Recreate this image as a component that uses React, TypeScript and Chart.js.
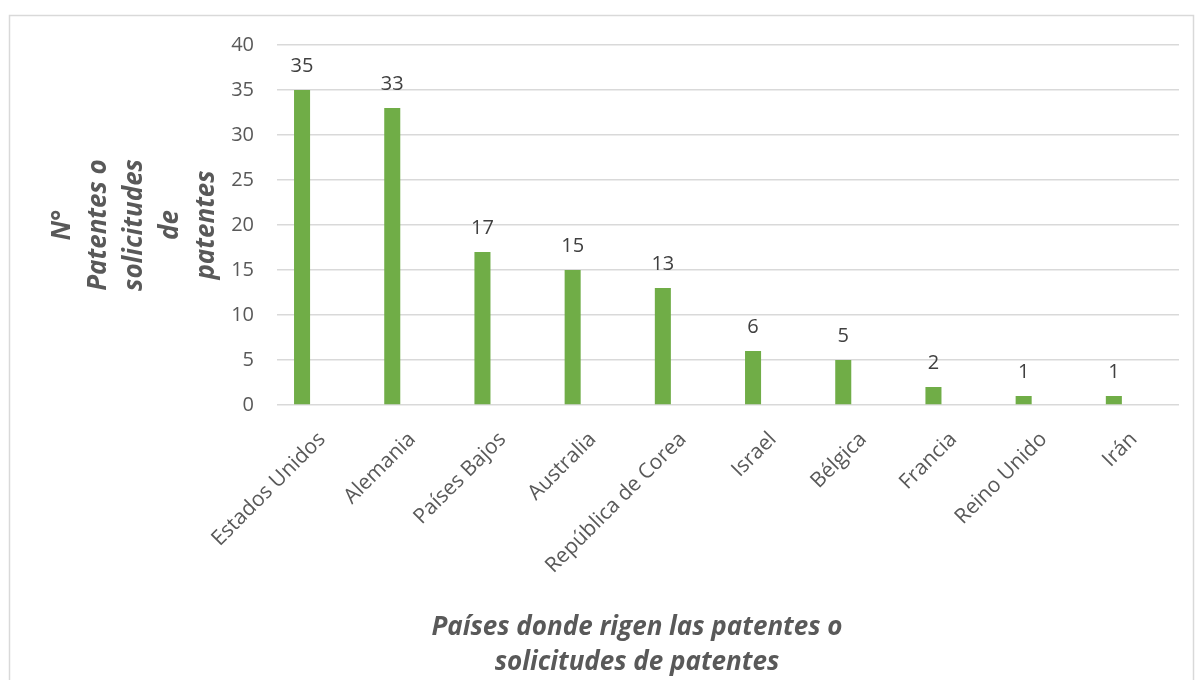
import React, { useEffect, useRef } from 'react';
import { Chart, registerables } from 'chart.js';

Chart.register(...registerables);

const countries = [
  'Estados Unidos',
  'Alemania',
  'Países Bajos',
  'Australia',
  'República de Corea',
  'Israel',
  'Bélgica',
  'Francia',
  'Reino Unido',
  'Irán',
];
const patentCounts = [35, 33, 17, 15, 13, 6, 5, 2, 1, 1];
const yTitleLines = ['N°', 'Patentes o', 'solicitudes', 'de', 'patentes'];
const xTitleLines = ['Países donde rigen las patentes o', 'solicitudes de patentes'];

const FONT = '"Open Sans", "DejaVu Sans", sans-serif';
const TEXT = '#595959';
const GRID = '#d9d9d9';
const BAR = '#70ad47';

// Outer frame of the chart
const framePlugin = {
  id: 'frame',
  beforeDraw(chart: any) {
    const { ctx } = chart;
    ctx.save();
    ctx.fillStyle = '#ffffff';
    ctx.fillRect(0, 0, chart.width, chart.height);
    ctx.strokeStyle = GRID;
    ctx.lineWidth = 1.5;
    ctx.strokeRect(9.5, 15.5, 1184, 720);
    ctx.restore();
  },
};

// Value printed above each bar
const valueLabelPlugin = {
  id: 'valueLabels',
  afterDatasetsDraw(chart: any) {
    const { ctx } = chart;
    const meta = chart.getDatasetMeta(0);
    ctx.save();
    ctx.font = `20px ${FONT}`;
    ctx.fillStyle = '#404040';
    ctx.textAlign = 'center';
    ctx.textBaseline = 'alphabetic';
    meta.data.forEach((bar: any, i: number) => {
      ctx.fillText(String(patentCounts[i]), bar.x, bar.y - 18);
    });
    ctx.restore();
  },
};

// Horizontal axis title, centred under the chart body
const xTitlePlugin = {
  id: 'xTitle',
  afterDraw(chart: any) {
    const { ctx } = chart;
    ctx.save();
    ctx.font = `italic bold 26px ${FONT}`;
    ctx.fillStyle = TEXT;
    ctx.textAlign = 'center';
    ctx.textBaseline = 'middle';
    xTitleLines.forEach((line, i) => {
      ctx.fillText(line, 637, 628 + i * 35);
    });
    ctx.restore();
  },
};

export default function App() {
  const canvasRef = useRef<HTMLCanvasElement | null>(null);

  useEffect(() => {
    document.body.style.margin = '0';
    const canvas = canvasRef.current;
    if (!canvas) return;
    const chart = new Chart(canvas, {
      type: 'bar',
      data: {
        labels: countries,
        datasets: [
          {
            data: patentCounts,
            backgroundColor: BAR,
            borderWidth: 0,
            categoryPercentage: 0.889,
            barPercentage: 0.4,
          },
          {
            data: countries.map(() => null),
            backgroundColor: BAR,
            borderWidth: 0,
            categoryPercentage: 0.889,
            barPercentage: 0.4,
          },
        ],
      },
      options: {
        responsive: false,
        animation: false,
        devicePixelRatio: 1,
        layout: { padding: { left: 0, top: 45, right: 16, bottom: 0 } },
        plugins: {
          legend: { display: false },
          tooltip: { enabled: false },
        },
        scales: {
          x: {
            grid: { display: false },
            border: { display: false },
            ticks: {
              autoSkip: false,
              maxRotation: 45,
              minRotation: 45,
              padding: 14,
              color: TEXT,
              font: { family: FONT, size: 21 },
            },
            afterFit(scale: any) {
              scale.height = 275;
            },
          },
          y: {
            min: 0,
            max: 40,
            ticks: {
              stepSize: 5,
              padding: 23,
              color: TEXT,
              font: { family: FONT, size: 20 },
            },
            grid: { color: GRID, lineWidth: 1.5, drawTicks: false },
            border: { display: false },
            title: {
              display: true,
              text: yTitleLines,
              color: TEXT,
              font: { family: FONT, size: 26, weight: 'bold', style: 'italic', lineHeight: 1.385 },
              padding: { top: 45, bottom: 0 },
            },
            afterFit(scale: any) {
              scale.width = 277;
            },
          },
        },
      },
      plugins: [framePlugin, valueLabelPlugin, xTitlePlugin],
    });
    return () => chart.destroy();
  }, []);

  return (
    <canvas
      ref={canvasRef}
      width={1195}
      height={680}
      style={{ display: 'block', width: 1195, height: 680 }}
    />
  );
}
